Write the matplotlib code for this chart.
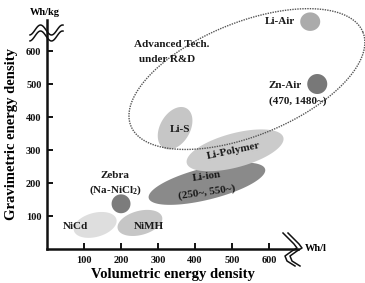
import numpy as np
import matplotlib
matplotlib.use('Agg')
import matplotlib.pyplot as plt
from matplotlib.patches import Polygon
from matplotlib.lines import Line2D

plt.rcParams['font.family'] = ['Liberation Serif', 'DejaVu Serif']
plt.rcParams['font.weight'] = 'bold'
plt.rcParams['axes.labelweight'] = 'bold'
plt.rcParams['mathtext.fontset'] = 'custom'
plt.rcParams['mathtext.rm'] = 'Liberation Serif:bold'
plt.rcParams['mathtext.bf'] = 'Liberation Serif:bold'

# battery regions: (volumetric Wh/l, gravimetric Wh/kg)
names   = ['NiCd', 'NiMH', 'Zebra', 'Li-ion', 'Li-Polymer', 'Li-S', 'Li-Air', 'Zn-Air']
vol     = [130, 251, 200, 432, 508, 346, 711, 730]
grav    = [73, 79, 137, 198, 299, 366, 689, 500]
# region sizes given in Wh/l-equivalent units, angle in degrees
widths  = [119, 124, 51, 324, 270, 124, 54, 54]
heights = [65, 65, 51, 86, 92, 81, 50, 54]
angles  = [15, 15, 0, 14, 15, 60, 0, 0]
colors  = ['#dedede', '#c6c6c6', '#7c7c7c', '#8a8a8a', '#cbcbcb', '#c6c6c6', '#ababab', '#787878']

# "advanced tech" dotted region
adv_center = (540, 515)
adv_size = (676, 306)
adv_angle = 22

xticks = [100, 200, 300, 400, 500, 600]
yticks = [100, 200, 300, 400, 500, 600]

W, H = 365, 283
fig = plt.figure(figsize=(W / 100, H / 100), dpi=100)
ax = fig.add_axes([47 / W, 34 / H, (298 - 47) / W, (249 - 20) / H])
ax.set_xlim(0, 678)
ax.set_ylim(0, 694)

# y units per x unit, so the shapes keep their look on screen
r = (694 / 229) / (678 / 251)

def blob(cx, cy, w, h, ang, **kw):
    t = np.linspace(0, 2 * np.pi, 200)
    a = np.radians(ang)
    u = w / 2 * np.cos(t)
    v = h / 2 * np.sin(t)
    dx = u * np.cos(a) - v * np.sin(a)
    dy = (u * np.sin(a) + v * np.cos(a)) * r
    p = Polygon(np.c_[cx + dx, cy + dy], closed=True, clip_on=False, **kw)
    ax.add_patch(p)

for i in range(len(names)):
    blob(vol[i], grav[i], widths[i], heights[i], angles[i],
         facecolor=colors[i], edgecolor='none', zorder=2)

blob(adv_center[0], adv_center[1], adv_size[0], adv_size[1], adv_angle,
     fill=False, edgecolor='#555555', linewidth=1.0, linestyle=(0, (1, 0.8)), zorder=3)

tc = '#1a1a1a'
fs = 8
def label(x, y, s, rot=0, **kw):
    ax.text(x, y, s, fontsize=fs, color=tc, ha='center', va='center',
            rotation=rot, rotation_mode='anchor', clip_on=False, zorder=4, **kw)

label(76, 67, 'NiCd')
label(276, 67, 'NiMH')
label(184, 223, 'Zebra')
label(184, 177, '(Na-NiCl$_\\mathbf{2}$)')
label(432, 220, 'Li-ion', rot=8)
label(432, 172, '(250~, 550~)', rot=8)
label(503, 296, 'Li-Polymer', rot=12)
label(359, 363, 'Li-S')
label(630, 689, 'Li-Air')
label(643, 494, 'Zn-Air')
label(678, 448, '(470, 1480~)')
label(338, 619, 'Advanced Tech.')
label(324, 573, 'under R&D')

# axes styling
for s in ['top', 'right']:
    ax.spines[s].set_visible(False)
for s in ['left', 'bottom']:
    ax.spines[s].set_linewidth(1.8)
    ax.spines[s].set_color('#111111')
ax.set_xticks(xticks)
ax.set_yticks(yticks)
ax.tick_params(direction='in', length=4, width=1.4, labelsize=7.5, colors='#111111')
ax.tick_params(axis='x', pad=5)
ax.tick_params(axis='y', pad=4)
ax.set_xlabel('Volumetric energy density', fontsize=10.5, labelpad=2)
ax.set_ylabel('Gravimetric energy density', fontsize=10.5, labelpad=6)

ax.text(-5, 716, 'Wh/kg', fontsize=7.5, ha='center', va='center', clip_on=False)
ax.text(726, 3, 'Wh/l', fontsize=7.5, ha='center', va='center', clip_on=False)

# axis break marks, drawn in pixel coordinates of the figure
def px(xs, ys):
    return [x / W for x in xs], [1 - y / H for y in ys]

xs = np.linspace(30, 63, 40)
for y0 in [30, 36]:
    ys = y0 - 5 * np.sin(2 * np.pi * (xs - 35) / 22)
    fx, fy = px(xs, ys)
    fig.add_artist(Line2D(fx, fy, color='#111111', linewidth=1.1))

for dx in [0, 5]:
    bx = np.array([283, 289, 294, 297, 292, 285, 287, 295]) + dx
    by = np.array([233, 239, 244, 248, 251, 256, 261, 266])
    fx, fy = px(bx, by)
    fig.add_artist(Line2D(fx, fy, color='#111111', linewidth=1.1))

plt.savefig('out.png', dpi=100)
